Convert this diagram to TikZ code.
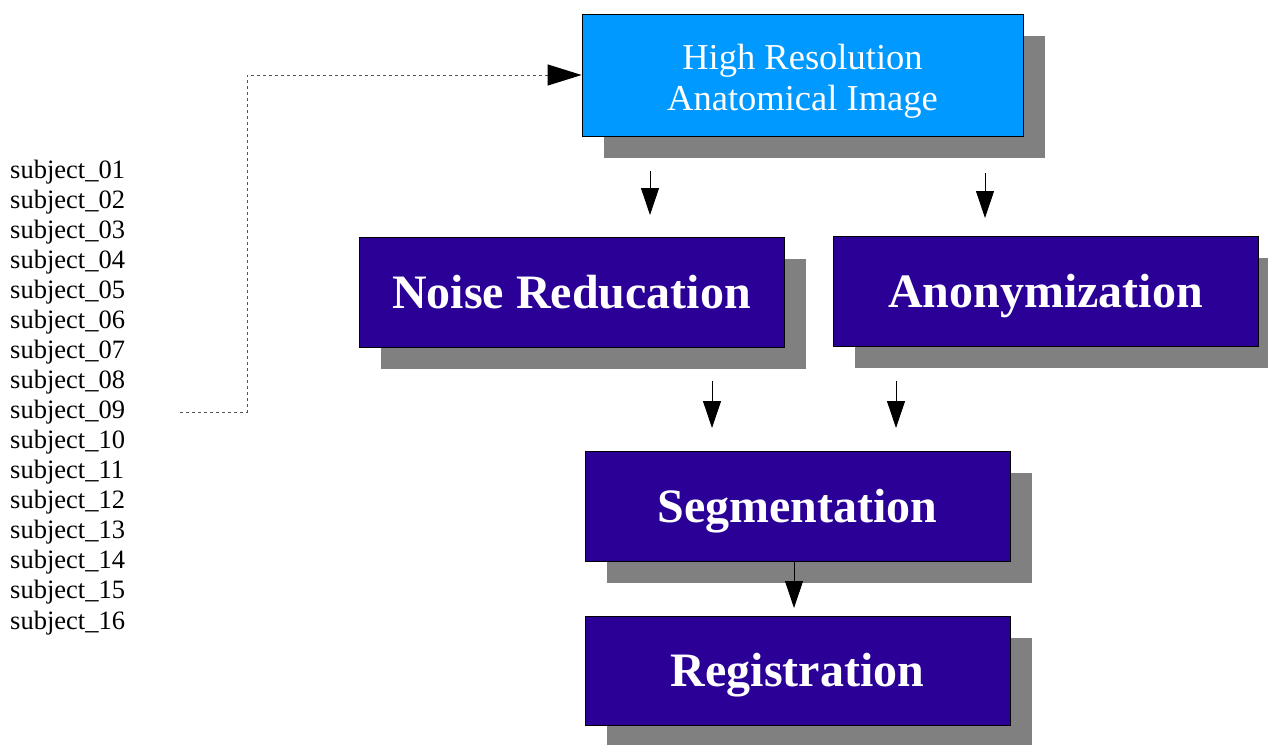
\documentclass[tikz,border=0pt]{standalone}
\usepackage{fontspec}
\setmainfont{Liberation Serif}
\usetikzlibrary{arrows.meta,shadows}
\definecolor{lightblue}{HTML}{0099FF}
\definecolor{indigo}{HTML}{2A0096}
\definecolor{shadowgray}{HTML}{808080}
\definecolor{dotgray}{HTML}{555555}
\tikzset{
  box/.style={draw=black, line width=0.8pt, inner sep=0pt, text=white,
    drop shadow={shadow xshift=22pt, shadow yshift=-22pt, fill=shadowgray, opacity=1}},
  bigbox/.style={box, fill=indigo, minimum width=425pt, minimum height=110pt,
    text height=32pt, text depth=0pt,
    font=\fontsize{48}{52}\selectfont\bfseries},
  topbox/.style={box, align=center, fill=lightblue, minimum width=441pt, minimum height=122pt,
    font=\fontsize{36.5}{41}\selectfont},
  subj/.style={anchor=base west, inner sep=0pt, font=\fontsize{26.5}{30}\selectfont},
  flow/.style={line width=0.9pt, -{Triangle[length=27pt,width=18pt]}},
  dotflow/.style={dotgray, line width=1pt, dash pattern=on 3pt off 3pt,
    -{Triangle[length=34pt,width=21pt,color=black]}}
}
\begin{document}
\begin{tikzpicture}[x=1pt,y=-1pt]
\useasboundingbox (0,0) rectangle (1268,744);
\node[topbox] (hr) at (802.5,75) {\rule{0pt}{38pt}High Resolution\\Anatomical Image};
\node[bigbox] (nr) at (571.5,292) {Noise Reducation};
\node[bigbox] (an) at (1045.5,291) {Anonymization};
\node[bigbox] (sg) at (797.5,506) {Segmentation};
\node[bigbox, minimum height=109pt] (rg) at (797.5,670.5) {Registration};
\foreach \i/\t in {1/01,2/02,3/03,4/04,5/05,6/06,7/07,8/08,9/09,10/10,11/11,12/12,13/13,14/14,15/15,16/16}{
  \node[subj] (s\i) at (10,{178+30.07*(\i-1)}) {subject\_\t};
}
\coordinate (d0) at (180,412);
\coordinate (d1) at (247,412);
\coordinate (d2) at (247,75);
\draw[dotflow] (d0) -- (d1) -- (d2) -- (hr.west);
\coordinate (a1s) at (650,171); \coordinate (a1e) at (650,215);
\coordinate (a2s) at (985,173); \coordinate (a2e) at (985,218);
\coordinate (a3s) at (712,381); \coordinate (a3e) at (712,428);
\coordinate (a4s) at (896,381); \coordinate (a4e) at (896,428);
\coordinate (a5e) at (794,608);
\draw[flow] (a1s) -- (a1e);
\draw[flow] (a2s) -- (a2e);
\draw[flow] (a3s) -- (a3e);
\draw[flow] (a4s) -- (a4e);
\draw[flow] (sg.south -| a5e) -- (a5e);
\end{tikzpicture}
\end{document}
